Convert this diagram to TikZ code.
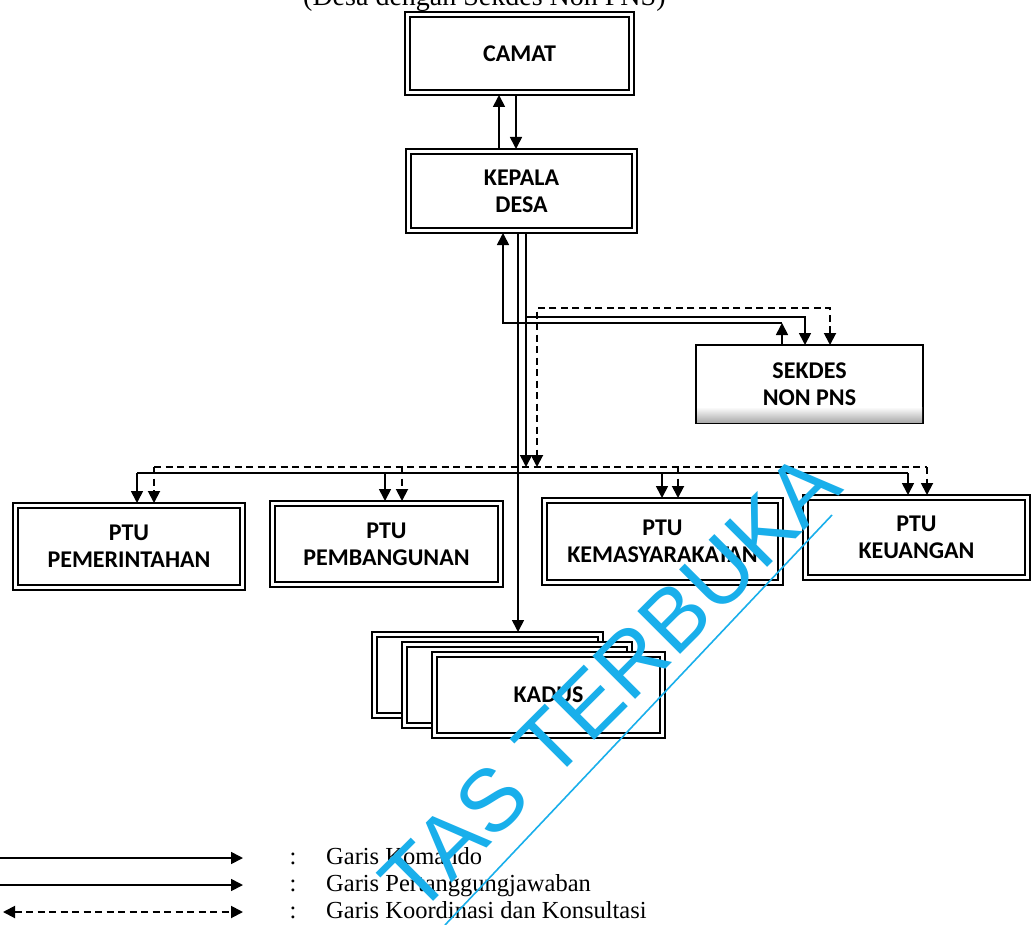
\documentclass[tikz,border=0pt]{standalone}
\usepackage{fontspec}
\setmainfont{Liberation Serif}
\newfontfamily\boxfont{Carlito}
\newfontfamily\wmfont{Liberation Sans}
\usetikzlibrary{arrows.meta}
\definecolor{wmcyan}{RGB}{25,175,235}
% inner thin line of a double-framed box
\newcommand\innerframe[1]{\draw[innerline] ([shift={(5pt,-5pt)}]#1.north west) rectangle ([shift={(-5pt,5pt)}]#1.south east);}
\begin{document}
\begin{tikzpicture}[x=1pt,y=-1pt,
  >={Triangle[width=12pt,length=12pt]},
  orgbox/.style={draw, line width=2.6pt, fill=white, inner sep=0pt, outer sep=0pt, align=center,
    font=\boxfont\bfseries\fontsize{24}{27}\selectfont},
  sekbox/.style={orgbox, line width=1.8pt},
  innerline/.style={line width=1.2pt},
  conn/.style={line width=1.7pt},
  coordline/.style={line width=1.9pt, dash pattern=on 7pt off 4.5pt},
  legtext/.style={font=\fontsize{24.5}{26}\selectfont, inner sep=0pt},
]
\fill[white] (0,0) rectangle (1032,925);
\useasboundingbox (0,0) rectangle (1032,925);

% heading, cut by the top edge
\node[font=\fontsize{28}{30}\selectfont, anchor=base west, inner sep=0pt] (hdr) at (303,6) {(Desa dengan Sekdes Non PNS)};

% ---------- boxes ----------
\node[orgbox, minimum width=229pt, minimum height=83pt] (camat) at (519.5,53.5) {CAMAT};
\innerframe{camat}
\node[orgbox, minimum width=231pt, minimum height=84pt] (kepala) at (521.5,191) {KEPALA\\DESA};
\innerframe{kepala}
\node[sekbox, minimum width=227pt, minimum height=78pt] (sekdes) at (809.5,384) {};
\shade[top color=white, bottom color=gray!65] ([shift={(1pt,16pt)}]sekdes.south west) rectangle ([shift={(-1pt,1pt)}]sekdes.south east);
\node[font=\boxfont\bfseries\fontsize{24}{27}\selectfont, align=center] (sektext) at (sekdes.center) {SEKDES\\NON PNS};

\node[orgbox, minimum width=232pt, minimum height=87pt] (pem) at (129,546.5) {PTU\\PEMERINTAHAN};
\innerframe{pem}
\node[orgbox, minimum width=233pt, minimum height=86pt] (pbg) at (386.5,544) {PTU\\PEMBANGUNAN};
\innerframe{pbg}
\node[orgbox, minimum width=241pt, minimum height=87pt] (kms) at (662.5,541.5) {PTU\\KEMASYARAKATAN};
\innerframe{kms}
\node[orgbox, minimum width=227pt, minimum height=85pt] (keu) at (916.5,537.5) {PTU\\KEUANGAN};
\innerframe{keu}

% stacked KADUS boxes
\node[orgbox, minimum width=231pt, minimum height=86pt] (kadusc) at (487.5,675) {};
\innerframe{kadusc}
\node[orgbox, minimum width=230pt, minimum height=86pt] (kadusb) at (517,685) {};
\innerframe{kadusb}
\node[orgbox, minimum width=233pt, minimum height=86pt] (kadusa) at (548.5,695) {KADUS};
\innerframe{kadusa}

% ---------- guide coordinates ----------
\coordinate (xa) at (499,0);
\coordinate (xb) at (516,0);
\coordinate (xc) at (503,0);
\coordinate (xd) at (518,0);
\coordinate (xe) at (526,0);
\coordinate (xf) at (537,0);
\coordinate (xg) at (782,0);
\coordinate (xh) at (805,0);
\coordinate (xi) at (830,0);
\coordinate (ys1) at (0,323);
\coordinate (ys2) at (0,317);
\coordinate (ys3) at (0,308);
\coordinate (ybusd) at (0,467);
\coordinate (ybus) at (0,473);
\coordinate (p1) at (137,0);
\coordinate (p2) at (385,0);
\coordinate (p3) at (662,0);
\coordinate (p4) at (908,0);
\coordinate (q1) at (154,0);
\coordinate (q2) at (402,0);
\coordinate (q3) at (678,0);
\coordinate (q4) at (927,0);

% ---------- connectors ----------
\draw[conn,->] (kepala.north -| xa) -- (camat.south -| xa);
\draw[conn,->] (camat.south -| xb) -- (kepala.north -| xb);

\draw[conn,->] (sekdes.north -| xg) -- (xg |- ys1);
\draw[conn,->] (xg |- ys1) -| (kepala.south -| xc);
\draw[conn,->] (xe |- ys2) -| (sekdes.north -| xh);
\draw[coordline,<->] (sekdes.north -| xi) |- (xf |- ys3) -- (xf |- ybusd);

\draw[conn,->] (kepala.south -| xe) -- (xe |- ybusd);
\draw[conn,->] (kepala.south -| xd) -- (kadusc.north -| xd);

% command bus to the PTU boxes
\draw[conn] (p1 |- ybus) -- (p4 |- ybus);
\draw[conn,->] (p1 |- ybus) -- (pem.north -| p1);
\draw[conn,->] (p2 |- ybus) -- (pbg.north -| p2);
\draw[conn,->] (p3 |- ybus) -- (kms.north -| p3);
\draw[conn,->] (p4 |- ybus) -- (keu.north -| p4);

% coordination bus to the PTU boxes
\draw[coordline] (q1 |- ybusd) -- (q4 |- ybusd);
\draw[coordline,->] (q1 |- ybusd) -- (pem.north -| q1);
\draw[coordline,->] (q2 |- ybusd) -- (pbg.north -| q2);
\draw[coordline,->] (q3 |- ybusd) -- (kms.north -| q3);
\draw[coordline,->] (q4 |- ybusd) -- (keu.north -| q4);

% ---------- legend ----------
\coordinate (la1) at (0,858);   \coordinate (lb1) at (243,858);
\coordinate (la2) at (0,885);   \coordinate (lb2) at (243,885);
\coordinate (la3) at (3,912);   \coordinate (lb3) at (243,912);
\draw[conn,->] (la1) -- (lb1);
\draw[conn,->] (la2) -- (lb2);
\draw[coordline,<->] (la3) -- (lb3);
\node[legtext, anchor=base] (c1) at (293,864) {:};
\node[legtext, anchor=base] (c2) at (293,891) {:};
\node[legtext, anchor=base] (c3) at (293,918) {:};
\node[legtext, anchor=base west] (t1) at (326,864) {Garis Komando};
\node[legtext, anchor=base west] (t2) at (326,891) {Garis Pertanggungjawaban};
\node[legtext, anchor=base west] (t3) at (326,918) {Garis Koordinasi dan Konsultasi};

% ---------- watermark ----------
\node[font=\wmfont\fontsize{88}{88}\selectfont, text=wmcyan, rotate=45, inner sep=0pt] (wm) at (610,682) {TAS TERBUKA};
\draw[wmcyan, line width=1.6pt] (445,925) -- (832,515);
\end{tikzpicture}
\end{document}
